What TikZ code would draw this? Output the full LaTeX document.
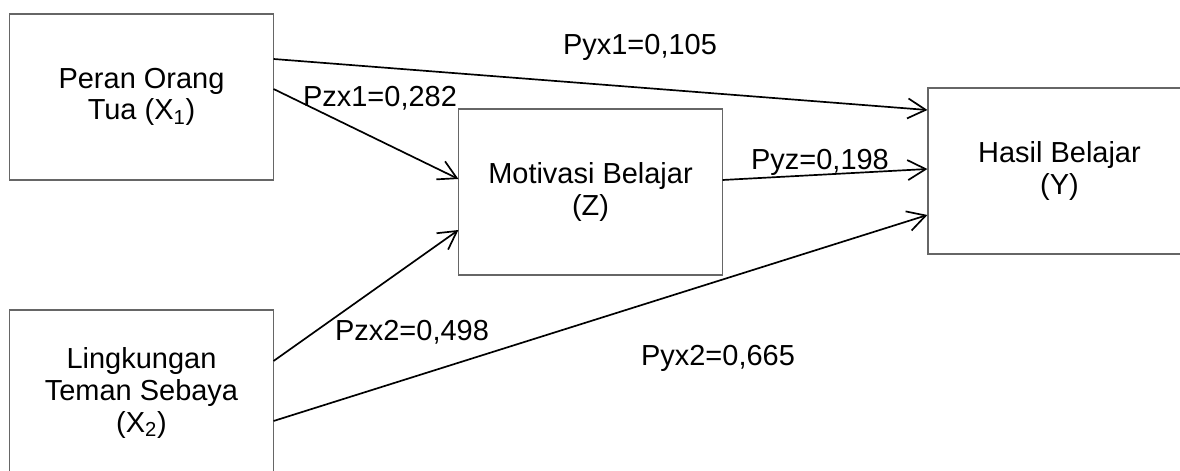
\documentclass[tikz,border=0pt]{standalone}
\usepackage{fontspec}
\setmainfont{Liberation Sans}
\usetikzlibrary{arrows.meta,calc}
\tikzset{
  varbox/.style={draw=black!60, line width=0.75pt, minimum width=6.575cm, minimum height=4.15cm, inner sep=0pt, align=center, font=\fontsize{20.6}{22.5}\selectfont},
  lbl/.style={anchor=base, inner sep=0pt, font=\fontsize{20.6}{22.5}\selectfont},
  conn/.style={draw=black, line width=1.2pt, -{Straight Barb[length=0.45cm,width=0.5cm,line width=1.2pt]}}
}
\begin{document}
\begin{tikzpicture}[x=0.025cm, y=-0.025cm]
\useasboundingbox (0,0) rectangle (1180,471);
\node[varbox] (x1) at (141.5,97) {Peran Orang\\Tua (X\textsubscript{1})};
\node[varbox] (z) at (590.5,192) {Motivasi Belajar\\(Z)};
\node[varbox] (y) at (1059.5,171) {Hasil Belajar\\(Y)};
\node[varbox] (x2) at (141.5,393) {Lingkungan\\Teman Sebaya\\(X\textsubscript{2})};
\draw[conn] ($(x1.east)+(0,-38)$) -- ($(y.west)+(0,-61)$);
\draw[conn] ($(x1.east)+(0,-8)$) -- ($(z.west)+(0,-13)$);
\draw[conn] ($(z.east)+(0,-12)$) -- ($(y.west)+(0,-2)$);
\draw[conn] ($(x2.east)+(0,-32)$) -- ($(z.west)+(0,38)$);
\draw[conn] ($(x2.east)+(0,28)$) -- ($(y.west)+(0,44)$);
\node[lbl] (l1) at (640,55) {Pyx1=0,105};
\node[lbl] (l2) at (380,107) {Pzx1=0,282};
\node[lbl] (l3) at (820,170) {Pyz=0,198};
\node[lbl] (l4) at (412,341) {Pzx2=0,498};
\node[lbl] (l5) at (718,366) {Pyx2=0,665};
\end{tikzpicture}
\end{document}
